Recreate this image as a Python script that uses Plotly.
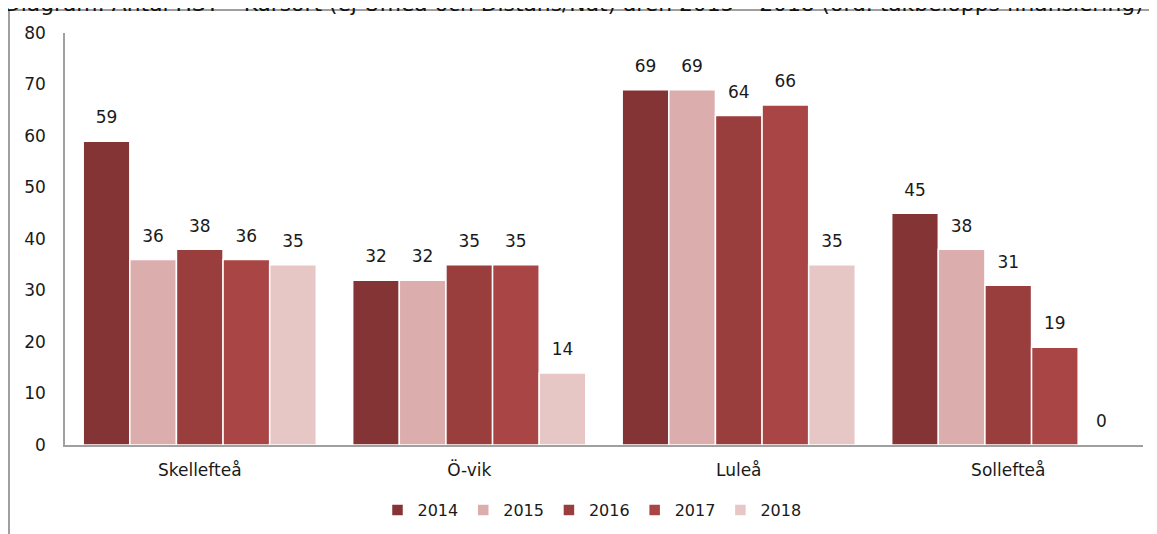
import plotly.graph_objects as go

categories = ["Skellefteå", "Ö-vik", "Luleå", "Sollefteå"]
years = ["2014", "2015", "2016", "2017", "2018"]
values = {
    "2014": [59, 32, 69, 45],
    "2015": [36, 32, 69, 38],
    "2016": [38, 35, 64, 31],
    "2017": [36, 35, 66, 19],
    "2018": [35, 14, 35, 0],
}
colors = {
    "2014": "#843434",
    "2015": "#DCADAD",
    "2016": "#9A3D3D",
    "2017": "#A94545",
    "2018": "#E7C6C6",
}
title_text = "Diagram: Antal HST – Kursort (ej Umeå och Distans/Nät) åren 2015 – 2018 (ord. takbelopps finansiering)"

FONT = "DejaVu Sans"
GAP = 0.135

fig = go.Figure()
for y in years:
    fig.add_trace(go.Bar(
        name=y, x=categories, y=values[y],
        marker=dict(color=colors[y], line=dict(color="white", width=1.5)),
        cliponaxis=False,
    ))
# value labels, grouped like the bars, lifted by an invisible marker
for y in years:
    fig.add_trace(go.Scatter(
        x=categories, y=values[y], mode="markers+text", showlegend=False,
        text=[str(v) for v in values[y]], textposition="top center",
        textfont=dict(family=FONT, size=17, color="#1a1a1a"),
        marker=dict(size=20, color="rgba(0,0,0,0)"),
        hoverinfo="skip", cliponaxis=False,
    ))

# page body has an 8px margin: figure pixel = screen pixel - 8
OFF = 8
W, H = 1149, 526
ml = 65 - OFF
mr = W - (1143 - OFF)
mt = 33 - OFF
mb = H - (445 - OFF)
ph = H - mt - mb
pw = W - ml - mr

def py(screen):
    return 1 + (mt - (screen - OFF)) / ph

def px(screen):
    return ((screen - OFF) - ml) / pw

fig.update_layout(
    width=W, height=H,
    margin=dict(l=ml, r=mr, t=mt, b=mb, autoexpand=False),
    paper_bgcolor="white", plot_bgcolor="white",
    barmode="group", bargap=GAP, bargroupgap=0,
    scattermode="group", scattergap=GAP,
    font=dict(family=FONT, size=17, color="#1a1a1a"),
    showlegend=True,
    legend=dict(orientation="h", x=(592 - OFF) / W, xanchor="center", xref="container",
                y=1 - (510 - OFF) / H, yanchor="middle", yref="container",
                font=dict(family=FONT, size=16, color="#1a1a1a"),
                traceorder="normal"),
    xaxis=dict(showline=True, linecolor="#A0A0A0", linewidth=1.5, ticks="", automargin=False,
               ticklabelstandoff=9,
               tickfont=dict(family=FONT, size=17, color="#1a1a1a"), showgrid=False),
    yaxis=dict(range=[0, 80], dtick=10, showline=True, linecolor="#A0A0A0", linewidth=1.5,
               showgrid=False, zeroline=False, ticks="", ticklabelstandoff=14, automargin=False,
               tickfont=dict(family=FONT, size=17, color="#1a1a1a")),
    shapes=[
        dict(type="line", xref="paper", yref="paper", x0=px(9), x1=px(1170), y0=py(10), y1=py(10),
             line=dict(color="#A0A0A0", width=2)),
        dict(type="line", xref="paper", yref="paper", x0=px(9), x1=px(9), y0=py(10), y1=py(545),
             line=dict(color="#A0A0A0", width=2)),
    ],
    annotations=[
        dict(text=title_text, xref="paper", yref="paper", x=px(2), xanchor="left",
             y=py(18), yanchor="bottom", showarrow=False,
             font=dict(family=FONT, size=21.8, color="#111")),
    ],
)

fig.write_html("out.html")
